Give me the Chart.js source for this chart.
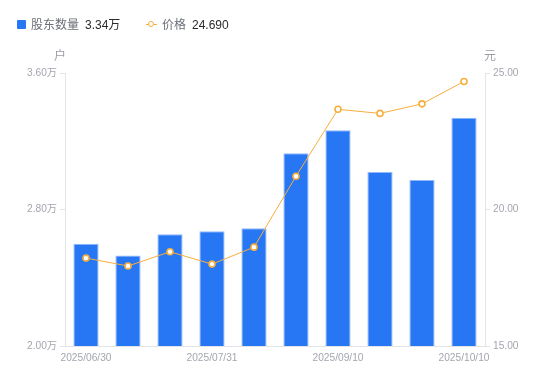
<!DOCTYPE html>
<html>
<head>
<meta charset="utf-8">
<script src="https://cdn.jsdelivr.net/npm/chart.js@4/dist/chart.umd.min.js"></script>
<style>
html,body{margin:0;padding:0;background:#fff;}
#wrap{position:relative;width:550px;height:381px;font-family:"Liberation Sans","Noto Sans CJK SC",sans-serif;}
#legend{position:absolute;left:0;top:0;width:550px;height:40px;font-size:12px;}
.it{position:absolute;top:17px;line-height:16px;white-space:nowrap;}
.g{color:#6b6f78;}
.d{color:#2a2a2a;}
</style>
</head>
<body>
<div id="wrap">
<canvas id="c" width="550" height="381"></canvas>
<div id="legend">
  <span class="it" style="left:17px;top:20px;width:9px;height:9px;background:#2777F5;border-radius:1px;"></span>
  <span class="it g" style="left:31px;">股东数量</span>
  <span class="it d" style="left:85px;" id="lv1"></span>
  <span class="it" style="left:146px;top:24px;width:11px;height:1px;background:#F7AE3C;"></span>
  <span class="it" style="left:148px;top:21px;width:4px;height:4px;border:1.5px solid #F7AE3C;border-radius:50%;background:#fff;"></span>
  <span class="it g" style="left:162px;">价格</span>
  <span class="it d" style="left:192px;" id="lv2"></span>
</div>
</div>
<script>
const categories = ["2025/06/30","2025/07/10","2025/07/18","2025/07/31","2025/08/20","2025/08/31","2025/09/10","2025/09/19","2025/09/30","2025/10/10"];
const holders = [2.60, 2.53, 2.655, 2.673, 2.69, 3.13, 3.265, 3.02, 2.973, 3.337];
const prices = [18.22, 17.93, 18.45, 18.0, 18.62, 21.22, 23.67, 23.52, 23.87, 24.69];
const leftTicks = [2.0, 2.8, 3.6];
const rightTicks = [15, 20, 25];

document.getElementById('lv1').textContent = holders[holders.length-1].toFixed(2) + '万';
document.getElementById('lv2').textContent = prices[prices.length-1].toFixed(3);

const FONT = '"Liberation Sans","Noto Sans CJK SC",sans-serif';
const TICKC = '#a3a6ae';
const AXISC = '#e3e4e8';

const titles = {
  id:'titles',
  afterDraw(chart){
    const ctx = chart.ctx, a = chart.chartArea;
    ctx.save();
    ctx.font = '12px ' + FONT;
    ctx.fillStyle = '#9a9da6';
    ctx.textAlign = 'center';
    ctx.textBaseline = 'middle';
    ctx.fillText('户', a.left - 5, 57);
    ctx.fillText('元', a.right + 5, 57);
    ctx.restore();
  }
};

new Chart(document.getElementById('c'), {
  type:'bar',
  data:{
    labels:categories,
    datasets:[
      {type:'line', label:'价格', data:prices, yAxisID:'y1', order:0,
       borderColor:'#F7AE3C', borderWidth:1, backgroundColor:'#fff',
       pointRadius:3, pointBorderWidth:1.6, pointBorderColor:'#F7AE3C', pointBackgroundColor:'#fff',
       tension:0},
      {type:'bar', label:'股东数量', data:holders, yAxisID:'y', order:1,
       backgroundColor:'#2777F5', borderColor:'#8fb8fa', borderWidth:1,
       barPercentage:0.6, categoryPercentage:1.0}
    ]
  },
  options:{
    responsive:false, animation:false, devicePixelRatio:1,
    layout:{padding:{top:73,left:0,right:0,bottom:0}},
    plugins:{legend:{display:false}, tooltip:{enabled:false}},
    scales:{
      x:{
        offset:true,
        grid:{display:false, drawTicks:false},
        border:{display:true,color:AXISC},
        ticks:{autoSkip:false, maxRotation:0, padding:6, color:TICKC, font:{size:10.2,family:FONT},
          callback:function(v,i){ return i%3===0 ? categories[i] : ''; }},
        afterFit(s){ s.height = 35; }
      },
      y:{
        position:'left', min:2.0, max:3.6,
        afterBuildTicks(s){ s.ticks = leftTicks.map(v=>({value:v})); },
        grid:{drawOnChartArea:false, drawTicks:true, tickLength:5, color:AXISC},
        border:{display:true,color:AXISC},
        ticks:{padding:3, color:TICKC, font:{size:10.2,family:FONT}, callback:v=>v.toFixed(2)+'万'},
        afterFit(s){ s.width = 65; }
      },
      y1:{
        position:'right', min:15, max:25,
        afterBuildTicks(s){ s.ticks = rightTicks.map(v=>({value:v})); },
        grid:{drawOnChartArea:false, drawTicks:true, tickLength:5, color:AXISC},
        border:{display:true,color:AXISC},
        ticks:{padding:3, color:TICKC, font:{size:10.2,family:FONT}, callback:v=>v.toFixed(2)},
        afterFit(s){ s.width = 65; }
      }
    }
  },
  plugins:[titles]
});
</script>
</body>
</html>
